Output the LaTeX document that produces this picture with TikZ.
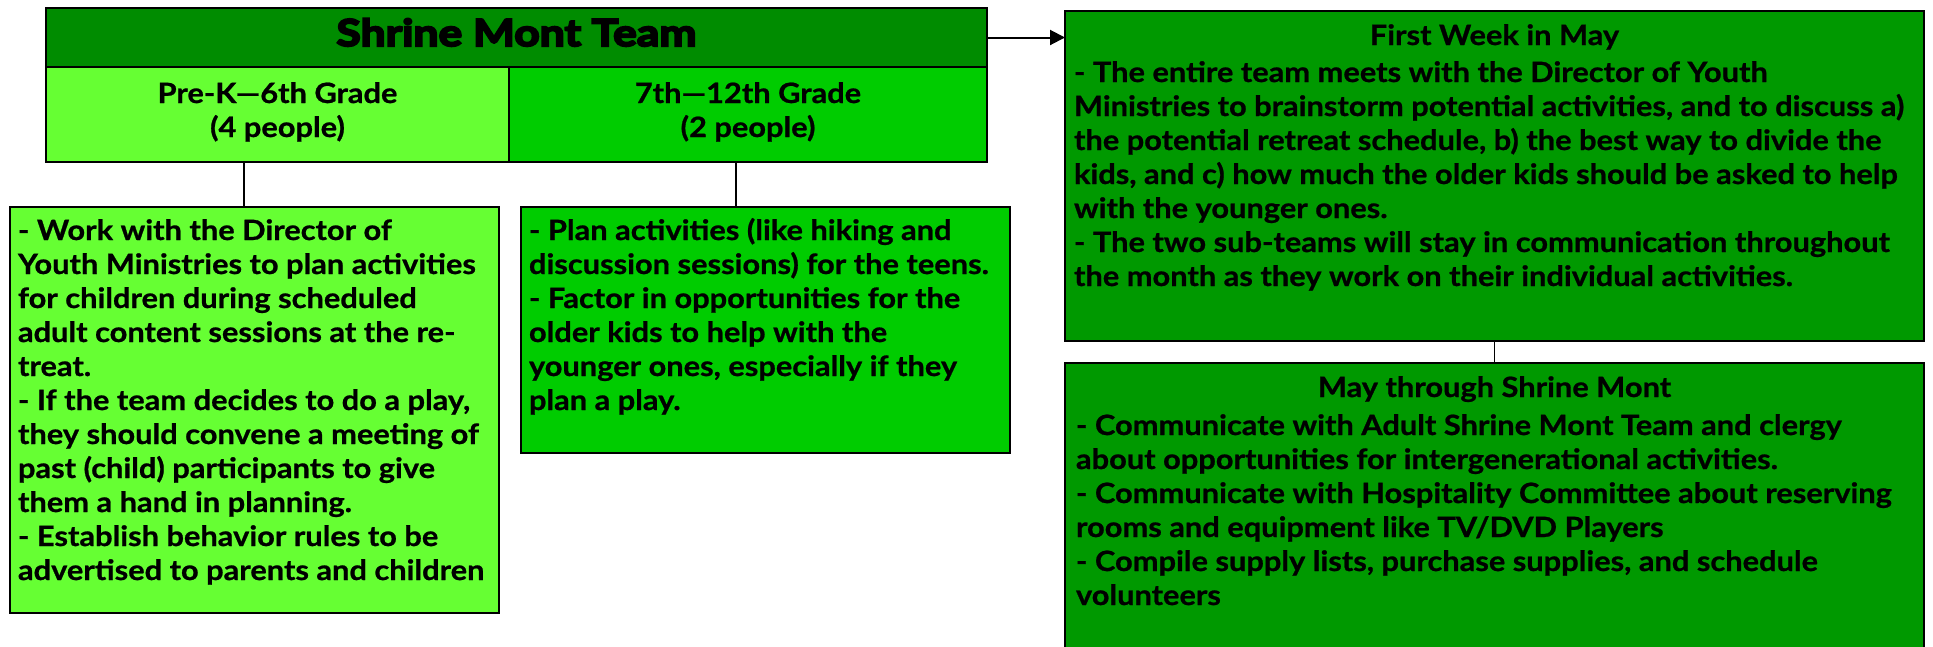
\documentclass[tikz,border=0pt]{standalone}
\usepackage{fontspec}
\setmainfont{Lato}[FakeStretch=1.1, BoldFeatures={FakeBold=0.8}]
\newfontfamily\heavyfont{Lato}[FakeStretch=1.2, BoldFeatures={FakeBold=5.5}]
\usetikzlibrary{arrows.meta}
\definecolor{hdrgreen}{RGB}{0,140,0}
\definecolor{darkgreen}{RGB}{0,153,0}
\definecolor{midgreen}{RGB}{0,204,0}
\definecolor{limegreen}{RGB}{102,255,51}
\newcommand\bodyfont{\bfseries\fontsize{28}{34}\selectfont}
\newcommand\bodytext[2]{\parbox[t]{#1}{\raggedright #2}}
\tikzset{
  box/.style={draw=black, line width=2.5pt, inner sep=0pt, outer sep=0pt},
  txt/.style={inner sep=0pt, outer sep=0pt, anchor=base west, font=\bodyfont},
  ctxt/.style={inner sep=0pt, outer sep=0pt, anchor=base, font=\bodyfont},
  link/.style={draw=black, line width=1.6pt},
}
\begin{document}
\begin{tikzpicture}[x=1pt,y=-1pt]
\useasboundingbox (0,0) rectangle (1933,646);
% left column
\node[box, fill=hdrgreen, minimum width=941pt, minimum height=59pt] (hdr) at (516.5,37.5) {};
\node[box, fill=limegreen, minimum width=463pt, minimum height=95pt] (pre) at (277.5,114.5) {};
\node[box, fill=midgreen, minimum width=478pt, minimum height=95pt] (teen) at (748,114.5) {};
\node[box, fill=limegreen, minimum width=489pt, minimum height=406pt] (lbox) at (254.5,410) {};
\node[box, fill=midgreen, minimum width=489pt, minimum height=246pt] (mbox) at (765.5,330) {};
% right column
\node[box, fill=darkgreen, minimum width=859pt, minimum height=330pt] (week) at (1494.5,176) {};
\node[box, fill=darkgreen, minimum width=859pt, minimum height=300pt] (may) at (1494.5,513) {};
% texts
\node[ctxt, font=\heavyfont\bfseries\fontsize{37}{40}\selectfont] (hdrt) at (516.5,46) {Shrine Mont Team};
\node[ctxt] (pret1) at (277.5,103) {Pre-K—6th Grade};
\node[ctxt] (pret2) at (277.5,137) {(4 people)};
\node[ctxt] (teent1) at (748,103) {7th—12th Grade};
\node[ctxt] (teent2) at (748,137) {(2 people)};
\node[txt] (lboxt) at (18,240) {\bodytext{480pt}{%
- Work with the Director of\\
Youth Ministries to plan activities\\
for children during scheduled\\
adult content sessions at the re-\\
treat.\\
- If the team decides to do a play,\\
they should convene a meeting of\\
past (child) participants to give\\
them a hand in planning.\\
- Establish behavior rules to be\\
advertised to parents and children}};
\node[txt] (mboxt) at (529,240) {\bodytext{480pt}{%
- Plan activities (like hiking and\\
discussion sessions) for the teens.\\
- Factor in opportunities for the\\
older kids to help with the\\
younger ones, especially if they\\
plan a play.}};
\node[ctxt] (weekh) at (1494.5,45) {First Week in May};
\node[txt] (weekt) at (1074,82) {\bodytext{850pt}{%
- The entire team meets with the Director of Youth\\
Ministries to brainstorm potential activities, and to discuss a)\\
the potential retreat schedule, b) the best way to divide the\\
kids, and c) how much the older kids should be asked to help\\
with the younger ones.\\
- The two sub-teams will stay in communication throughout\\
the month as they work on their individual activities.}};
\node[ctxt] (mayh) at (1494.5,397) {May through Shrine Mont};
\node[txt] (mayt) at (1076,435) {\bodytext{850pt}{%
- Communicate with Adult Shrine Mont Team and clergy\\
about opportunities for intergenerational activities.\\
- Communicate with Hospitality Committee about reserving\\
rooms and equipment like TV/DVD Players\\
- Compile supply lists, purchase supplies, and schedule\\
volunteers}};
% connectors
\coordinate (c1) at (244,0);
\coordinate (c2) at (736,0);
\draw[link] (pre.south -| c1) -- (lbox.north -| c1);
\draw[link] (teen.south -| c2) -- (mbox.north -| c2);
\draw[link] (week.south) -- (may.north);
\draw[link, line width=2pt, -{Triangle[length=15pt, width=15pt]}] (hdr.east) -- (week.west |- hdr.east);
\end{tikzpicture}
\end{document}
